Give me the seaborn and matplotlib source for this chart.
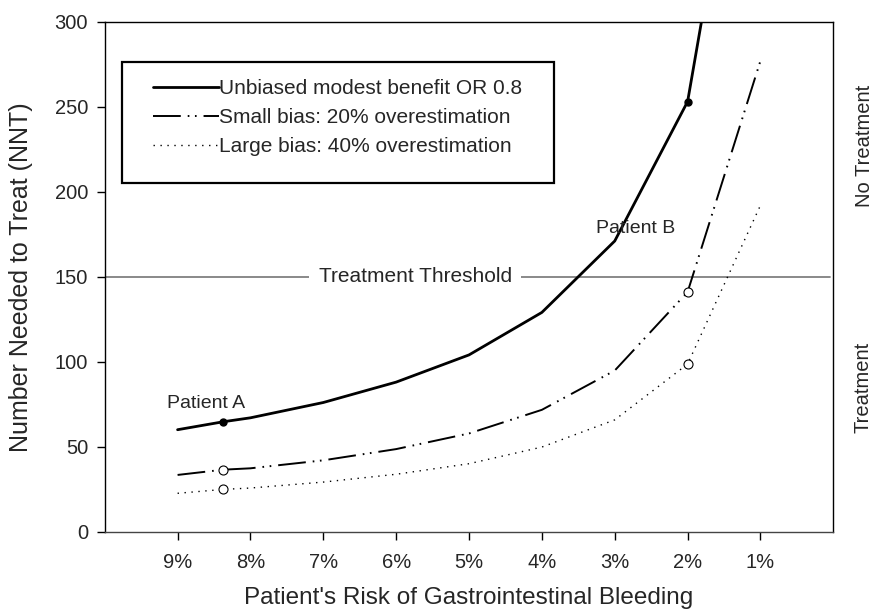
import numpy as np
import pandas as pd
import matplotlib
matplotlib.use("Agg")
import matplotlib.pyplot as plt
import matplotlib.patches as mpatches
import matplotlib.transforms as mtransforms
import seaborn as sns

# Risk of GI bleeding (%) and NNT
risk = [9, 8.37, 8, 7, 6, 5, 4, 3, 2, 1]
nnt_unbiased = [60, 64.7, 67, 76, 88, 104, 129, 171, 253, 500]
nnt_small_bias = [33.4, 36.5, 37.3, 42, 48.6, 57.8, 71.7, 94.8, 141, 277]
nnt_large_bias = [22.6, 24.9, 25.7, 29.2, 33.8, 40, 49.8, 65.8, 98.6, 192]

series_labels = ["Unbiased modest benefit OR 0.8",
                 "Small bias: 20% overestimation",
                 "Large bias: 40% overestimation"]
patient_idx = [1, 8]          # Patient A (8.37%), Patient B (2%)
threshold = 150

x_ticks = [9, 8, 7, 6, 5, 4, 3, 2, 1]
x_ticklabels = ["9%", "8%", "7%", "6%", "5%", "4%", "3%", "2%", "1%"]
y_ticks = [0, 50, 100, 150, 200, 250, 300]

sns.set_style("ticks")
plt.rcParams['font.family'] = ['Liberation Sans', 'DejaVu Sans']
plt.rcParams['lines.scale_dashes'] = False

fig = plt.figure(figsize=(8.77, 6.14), dpi=100)
ax = fig.add_axes([0.1194, 0.134, 0.8308, 0.8307])

styles = [
    dict(color="black", linewidth=2.0, linestyle="-"),
    dict(color="black", linewidth=1.4, linestyle=(0, (20, 5, 1.2, 4, 1.2, 5))),
    dict(color="black", linewidth=1.0, linestyle=(0, (1, 4))),
]
all_series = [nnt_unbiased, nnt_small_bias, nnt_large_bias]

handles = []
for vals, lab, st in zip(all_series, series_labels, styles):
    sns.lineplot(x=risk, y=vals, ax=ax, sort=False, label=lab, **st)
    handles.append(ax.lines[-1])

# markers at the two patients
for k, vals in enumerate(all_series):
    px = [risk[i] for i in patient_idx]
    py = [vals[i] for i in patient_idx]
    if k == 0:
        ax.plot(px, py, "o", color="black", markersize=5, zorder=5)
    else:
        ax.plot(px, py, "o", markerfacecolor="white", markeredgecolor="black",
                markeredgewidth=0.8, markersize=6.5, zorder=5)

# treatment threshold
ax.axhline(threshold, xmin=0, xmax=0.996, color="#808080", linewidth=1.3, zorder=1)
trans = mtransforms.blended_transform_factory(ax.transAxes, ax.transData)
ax.text(0.426, threshold, "Treatment Threshold", transform=trans, ha="center", va="center",
        fontsize=15, bbox=dict(boxstyle="square,pad=0.45", facecolor="white", edgecolor="none"),
        zorder=2)

ax.text(8.61, 75.7, "Patient A", ha="center", va="center", fontsize=14)
ax.text(2.72, 178.6, "Patient B", ha="center", va="center", fontsize=14)

ax.set_xlim(10, 0)
ax.set_ylim(0, 300)
ax.set_xticks(x_ticks)
ax.set_xticklabels(x_ticklabels)
ax.set_yticks(y_ticks)
ax.tick_params(axis="both", direction="out", length=6, width=1, labelsize=14.5, color="black")
ax.tick_params(axis="x", pad=9)
ax.tick_params(axis="y", pad=6)
for s in ax.spines.values():
    s.set_visible(True)
    s.set_color("black")
    s.set_linewidth(1)
ax.spines["bottom"].set_color("#444444")

ax.set_xlabel("Patient's Risk of Gastrointestinal Bleeding", fontsize=17.5, labelpad=11)
ax.set_ylabel("Number Needed to Treat (NNT)", fontsize=18)
ax.yaxis.set_label_coords(-0.099, 0.5)

# legend box
ax.add_patch(mpatches.Rectangle((0.0233, 0.6837), 0.5934, 0.2373, transform=ax.transAxes,
                                fill=False, edgecolor="black", linewidth=1.6, zorder=6))
ax.legend(handles=handles, labels=series_labels, loc="upper left",
          bbox_to_anchor=(0.066, 0.888), frameon=False, fontsize=15,
          handlelength=3.2, handletextpad=0.0, labelspacing=0.48, borderpad=0,
          borderaxespad=0)

fig.text(865 / 877, 1 - 146 / 614, "No Treatment", rotation=90, ha="center", va="center", fontsize=14.5)
fig.text(863 / 877, 1 - 387 / 614, "Treatment", rotation=90, ha="center", va="center", fontsize=14.5)

fig.savefig("out.png", dpi=100)
